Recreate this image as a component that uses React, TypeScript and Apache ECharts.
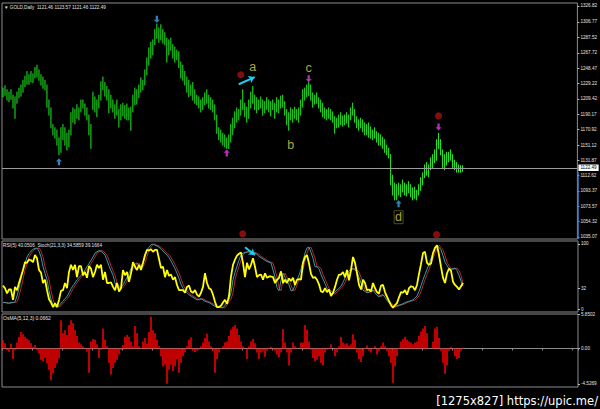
import { useEffect, useRef } from 'react';
import * as echarts from 'echarts';

// ---- price bars (GOLD, Daily), high / low per bar ----
const barHigh = [
  1223,1226,1221,1218,1221,1214,1212,1218,1223,1227,
  1233,1238,1244,1240,1244,1241,1249,1252,1246,1240,
  1237,1233,1227,1208,1198,1177,1173,1170,1160,1173,
  1177,1173,1166,1170,1192,1198,1196,1202,1198,1208,
  1208,1203,1198,1189,1177,1218,1212,1208,1214,1231,
  1237,1230,1225,1221,1214,1208,1202,1208,1196,1202,
  1204,1201,1203,1198,1199,1214,1223,1221,1227,1236,
  1233,1246,1261,1274,1281,1284,1297,1304,1299,1303,
  1297,1293,1286,1284,1286,1278,1275,1271,1269,1256,
  1252,1244,1237,1233,1227,1230,1221,1214,1212,1208,
  1211,1217,1221,1214,1211,1208,1202,1189,1173,1170,
  1166,1164,1160,1164,1177,1185,1193,1198,1196,1208,
  1221,1204,1199,1208,1218,1225,1214,1211,1208,1212,
  1208,1206,1211,1208,1206,1208,1204,1211,1208,1213,
  1214,1206,1196,1192,1198,1196,1199,1196,1198,1208,
  1221,1223,1227,1230,1227,1217,1214,1217,1211,1208,
  1204,1198,1196,1198,1196,1193,1187,1185,1189,1192,
  1188,1189,1192,1189,1198,1204,1196,1187,1183,1185,
  1183,1179,1177,1179,1174,1170,1173,1168,1166,1164,
  1161,1158,1151,1147,1139,1113,1103,1101,1103,1101,
  1107,1103,1101,1105,1101,1097,1098,1094,1101,1110,
  1116,1126,1129,1126,1135,1139,1145,1158,1166,1158,
  1145,1139,1142,1142,1145,1139,1132,1129,1126,1125,
  1125,
];
const barLow = [
  1212,1214,1208,1206,1209,1198,1185,1204,1211,1213,
  1218,1225,1228,1228,1231,1230,1236,1237,1233,1227,
  1223,1221,1199,1189,1173,1164,1160,1151,1139,1142,
  1158,1151,1145,1149,1164,1180,1178,1185,1183,1193,
  1198,1189,1183,1164,1147,1196,1193,1187,1198,1208,
  1221,1213,1208,1192,1198,1193,1185,1189,1174,1183,
  1188,1185,1183,1183,1170,1193,1202,1203,1211,1218,
  1221,1227,1240,1252,1261,1265,1278,1286,1281,1284,
  1280,1278,1256,1265,1271,1261,1256,1259,1249,1236,
  1233,1227,1218,1212,1214,1208,1204,1202,1198,1193,
  1196,1202,1204,1198,1196,1193,1183,1166,1158,1155,
  1151,1149,1147,1147,1155,1164,1173,1180,1183,1189,
  1196,1187,1180,1185,1198,1204,1196,1192,1196,1198,
  1189,1192,1196,1193,1188,1196,1185,1193,1192,1198,
  1199,1189,1177,1170,1183,1180,1185,1183,1180,1189,
  1199,1208,1212,1214,1208,1199,1203,1204,1198,1193,
  1187,1185,1183,1185,1183,1180,1166,1173,1174,1177,
  1175,1177,1179,1174,1183,1189,1180,1173,1170,1173,
  1168,1164,1164,1161,1160,1158,1160,1155,1151,1151,
  1147,1142,1139,1135,1101,1088,1082,1082,1088,1086,
  1092,1088,1087,1091,1086,1082,1084,1082,1088,1094,
  1101,1110,1113,1111,1120,1122,1129,1132,1147,1139,
  1122,1120,1126,1130,1132,1123,1120,1117,1117,1117,
  1118,
];

// ---- RSI(5) ----
const rsi = [
  36,32,24,30,30,14,34,29,40,50,
  60,72,71,76,75,72,83,78,60,56,
  40,45,29,15,10,3,9,3,14,28,
  29,40,32,57,68,60,68,49,66,66,
  52,57,48,66,62,49,57,68,63,68,
  45,57,40,40,41,34,29,40,27,32,
  60,52,57,42,55,72,65,60,68,60,
  71,83,91,90,92,88,91,91,77,63,
  65,49,60,51,53,45,49,37,29,29,
  29,25,34,36,27,25,29,22,19,25,
  34,55,40,32,30,22,11,3,3,5,
  10,14,8,20,50,68,76,82,85,87,
  71,49,71,61,68,78,65,49,52,53,
  45,55,48,50,50,49,40,45,48,58,
  40,45,40,47,43,48,37,45,46,45,
  71,80,83,70,54,48,49,45,38,27,
  26,32,26,30,20,25,34,45,53,53,
  57,49,60,44,60,80,71,55,37,30,
  45,40,29,30,27,40,32,26,24,36,
  37,26,19,12,6,2,6,9,18,26,
  25,29,22,32,35,34,29,37,54,69,
  86,88,71,68,70,86,94,98,83,65,
  48,40,55,62,59,42,37,34,30,35,
  40,
];

// ---- Stochastic(21,3,3) main and signal ----
const stochMain = [
  10,10,9,9,10,10,11,20,32,46,
  60,70,80,85,89,92,93,94,89,80,
  65,55,45,28,15,6,4,3,5,9,
  12,16,19,25,31,36,40,45,48,52,
  55,60,65,70,75,80,86,88,90,89,
  86,83,75,66,59,52,40,35,32,33,
  37,43,49,55,62,66,69,71,66,65,
  71,81,91,95,99,100,98,97,95,92,
  89,86,83,79,74,68,62,55,47,38,
  32,28,25,22,20,18,16,14,15,16,
  14,12,11,10,8,6,4,3,3,2,
  2,6,11,15,25,45,56,66,75,83,
  86,87,88,88,87,87,86,84,81,79,
  77,75,73,72,71,60,49,33,28,44,
  55,49,43,37,28,29,37,45,52,61,
  74,86,94,95,87,78,65,65,62,53,
  46,39,32,28,24,23,26,29,32,35,
  41,48,55,58,62,62,60,57,49,40,
  29,27,25,26,28,29,25,21,19,21,
  22,18,13,10,6,3,4,5,6,7,
  8,10,11,12,13,14,17,20,27,36,
  45,53,61,69,78,86,93,98,95,91,
  82,72,67,62,61,62,63,59,52,43,
  35,
];
const stochSignal = [
  10,10,10,9,9,10,10,11,20,32,
  46,60,70,80,85,89,92,93,94,89,
  80,65,55,45,28,15,6,4,3,5,
  9,12,16,19,25,31,36,40,45,48,
  52,55,60,65,70,75,80,86,88,90,
  89,86,83,75,66,59,52,40,35,32,
  33,37,43,49,55,62,66,69,71,66,
  65,71,81,91,95,99,100,98,97,95,
  92,89,86,83,79,74,68,62,55,47,
  38,32,28,25,22,20,18,16,14,15,
  16,14,12,11,10,8,6,4,3,3,
  2,2,6,11,15,25,45,56,66,75,
  83,86,87,88,88,87,87,86,84,81,
  79,77,75,73,72,71,60,49,33,28,
  44,55,49,43,37,28,29,37,45,52,
  61,74,86,94,95,87,78,65,65,62,
  53,46,39,32,28,24,23,26,29,32,
  35,41,48,55,58,62,62,60,57,49,
  40,29,27,25,26,28,29,25,21,19,
  21,22,18,13,10,6,3,4,5,6,
  7,8,10,11,12,13,14,17,20,27,
  36,45,53,61,69,78,86,93,98,95,
  91,82,72,67,62,61,62,63,59,52,
  39,
];

// ---- OsMA(5,12,3) ----
const osma = [
  1.4,0.9,-0.3,-0.6,0.8,-1.8,-0.3,1.0,2.0,2.8,
  2.4,2.0,1.7,1.4,0.9,0.3,0.6,-0.3,-0.8,-1.9,
  -2.2,-1.6,-2.5,-3.6,-5.4,-4.2,-3.3,-2.5,-1.7,4.8,
  2.6,3.1,2.3,4.0,4.8,4.3,3.1,2.1,1.0,0.7,
  0.4,0,-0.5,-4.1,1.2,1.6,1.5,0.7,-1.6,-0.2,
  3.4,1.5,0.4,-2.4,-4.4,-3.3,-2.4,-1.9,-1.0,-0.2,
  0.6,2.0,2.3,2.0,1.2,0.4,3.8,2.6,0.4,-0.1,
  1.2,1.8,0.8,2.8,5.4,3.1,2.6,1.5,0.4,-1.3,
  -3.0,-2.7,-6.0,-3.6,-2.7,-3.8,-3.0,-1.8,-4.1,-2.4,
  -1.3,-0.7,0.4,1.5,1.9,-0.4,-0.6,-0.4,-0.2,0.4,
  1.0,1.8,2.5,1.2,0.4,-0.4,-4.1,-1.8,-0.7,-0.1,
  0.4,1.0,1.2,2.1,3.2,3.7,4.0,3.4,2.3,1.2,
  0.4,0,-1.8,0.4,1.2,1.6,0.9,-0.7,-1.8,-0.7,
  -0.4,-1.4,-0.4,0.1,0.3,-0.2,-0.4,-1.0,-1.5,-0.7,
  3.3,1.0,-0.7,-2.9,-0.7,1.0,0.4,-0.1,0,1.0,
  1.0,4.0,3.2,1.2,-0.2,-1.6,-2.2,-1.9,-1.3,-2.4,
  -2.9,-0.7,-0.2,0.1,0.7,0,-1.3,-0.7,0.4,2.0,
  1.0,0.7,0.9,0.5,0.7,2.4,1.5,-0.7,-1.8,-2.3,
  -1.3,0.1,0.5,-0.4,-0.7,-0.1,0.4,-1.0,-0.4,0.4,
  1.0,0.4,-0.4,-1.3,-2.4,-5.8,-3.0,-1.3,-0.1,1.2,
  1.6,2.0,1.5,1.2,1.0,0.7,1.0,1.2,2.1,2.9,
  3.4,3.8,2.6,0.1,0,1.2,3.4,3.7,1.8,-0.4,
  -2.4,-4.3,-2.9,-0.4,0.3,-0.1,-1.3,-1.8,-1.6,-0.4,
  0.07,
];

// ---- axis tick labels ----
const priceTicks = [1035.07,1054.32,1073.57,1093.37,1112.62,1131.87,1151.12,1170.92,1190.17,1209.42,1229.22,1248.47,1267.72,1287.52,1306.77,1326.82];
const rsiTicks = [0, 32, 100];
const osmaTicks = [5.8502, 0, -6.0];
const osmaTickLabels = ['5.8502', '0.00', '-4.5269'];
const lastPrice = 1122.49;
const slotCount = 288;

// ---- annotations [barIndex, value] ----
const arrowsUpBlue = [[28, 1130], [198, 1077]];
const arrowsDownBlue = [[77, 1310]];
const arrowsUpMagenta = [[112, 1141]];
const arrowsDownMagenta = [[153, 1235], [218, 1174]];
const redDots = [[119, 1240], [218, 1188], [120, 1039], [217, 1038]];
const waveLabels = [
  { name: 'a', at: [125, 1250] },
  { name: 'b', at: [144, 1151] },
  { name: 'c', at: [153, 1248] },
  { name: 'd', at: [198, 1060] },
];
const cyanArrowMain = [[118, 1228], [126, 1237]];
const cyanArrowRsi = [[121, 95], [126, 83]];

const GREEN = '#1fee1f';
const FRAME = '#8c8c8c';
const TXT = '#e4e4e4';
const FONT = 'Liberation Sans, Arial, sans-serif';
const UP = 'path://M4 0 L8 4 L5.5 4 L5.5 9 L2.5 9 L2.5 4 L0 4 Z';
const DOWN = 'path://M2.5 0 L5.5 0 L5.5 5 L8 5 L4 9 L0 5 L2.5 5 Z';

export default function App() {
  const ref = useRef<HTMLDivElement>(null);
  useEffect(() => {
    document.body.style.margin = '0';
    document.body.style.background = '#000';
    if (!ref.current) return;
    const chart = echarts.init(ref.current, undefined, { renderer: 'svg' });
    const slots = Array.from({ length: slotCount }, (_, i) => String(i));
    const bars = barHigh.map((h, i) => [i, barLow[i], h]);
    const grids = [
      { left: 2, top: 3, width: 576, height: 236 },
      { left: 2, top: 241, width: 576, height: 71 },
      { left: 2, top: 314, width: 576, height: 73 },
    ].map((g) => ({ ...g, show: true, borderColor: FRAME, borderWidth: 1, backgroundColor: 'transparent', containLabel: false }));

    const xAxis = [0, 1, 2].map((gi) => ({
      type: 'category',
      gridIndex: gi,
      data: slots,
      boundaryGap: true,
      axisLine: { show: gi === 2, lineStyle: { color: FRAME } },
      axisTick: { show: gi === 2, interval: 14, length: 2, lineStyle: { color: FRAME } },
      axisLabel: { show: false },
      splitLine: { show: false },
    }));

    const yBase = (gi: number, min: number, max: number, ticks: number[], fmt: (v: number) => string) => ({
      type: 'value',
      gridIndex: gi,
      position: 'right',
      min,
      max,
      splitLine: { show: false },
      axisLine: { show: false },
      axisTick: { show: true, length: 2, customValues: ticks, lineStyle: { color: '#bdbdbd' } },
      axisLabel: { show: true, customValues: ticks, formatter: fmt, color: TXT, fontSize: 4.6, margin: 3, fontFamily: FONT },
    });

    const option: any = {
      animation: false,
      backgroundColor: '#000',
      grid: grids,
      xAxis,
      yAxis: [
        yBase(0, 1032.5, 1330.6, priceTicks, (v) => v.toFixed(2)),
        yBase(1, -4.6, 104.6, rsiTicks, (v) => String(Math.round(v))),
        yBase(2, -6.53, 5.8502, osmaTicks, (v) => {
          const k = osmaTicks.findIndex((t) => Math.abs(t - v) < 1e-6);
          return k >= 0 ? osmaTickLabels[k] : '';
        }),
      ],
      title: [
        { text: '\u25BC GOLD,Daily  1121.46 1123.57 1121.46 1122.49', left: 4, top: 4.5, padding: 0, textStyle: { color: TXT, fontSize: 4.6, fontWeight: 'normal', fontFamily: FONT } },
        { text: 'RSI(5) 40.0506  Stoch(21,3,3) 34.5859 39.1664', left: 3, top: 242.5, padding: 0, textStyle: { color: TXT, fontSize: 4.7, fontWeight: 'normal', fontFamily: FONT } },
        { text: 'OsMA(5,12,3) 0.0662', left: 3, top: 315, padding: 0, textStyle: { color: TXT, fontSize: 5, fontWeight: 'normal', fontFamily: FONT } },
        { text: '[1275x827] https://upic.me/', right: 2, top: 394.5, padding: 0, textStyle: { color: '#ffffff', fontSize: 11.5, fontWeight: 'normal', fontFamily: 'DejaVu Sans, sans-serif' } },
      ],
      graphic: [
        { type: 'line', shape: { x1: 578, y1: 172, x2: 578, y2: 239 }, style: { stroke: '#3b7fd0', lineWidth: 1.5 }, z: 100 },
      ],
      series: [
        {
          type: 'custom',
          xAxisIndex: 0,
          yAxisIndex: 0,
          data: bars,
          encode: { x: 0, y: [1, 2] },
          renderItem: (_p: any, api: any) => {
            const lo = api.coord([api.value(0), api.value(1)]);
            const hi = api.coord([api.value(0), api.value(2)]);
            return {
              type: 'line',
              shape: { x1: lo[0], y1: lo[1] + 0.5, x2: hi[0], y2: hi[1] - 0.5 },
              style: { stroke: GREEN, lineWidth: 1 },
            };
          },
          markLine: {
            silent: true,
            symbol: 'none',
            data: [{ yAxis: lastPrice }],
            lineStyle: { color: '#9c9c9c', width: 1, type: 'solid' },
            label: { show: true, position: 'end', formatter: lastPrice.toFixed(2), color: '#000', backgroundColor: '#ffffff', fontSize: 4.6, padding: [1, 2, 0.5, 2], distance: 1, fontFamily: FONT },
          },
          z: 2,
        },
        {
          type: 'scatter', xAxisIndex: 0, yAxisIndex: 0, data: arrowsUpBlue,
          symbol: UP, symbolSize: [6, 7], itemStyle: { color: '#3ea2e8' }, z: 5,
        },
        {
          type: 'scatter', xAxisIndex: 0, yAxisIndex: 0, data: arrowsDownBlue,
          symbol: DOWN, symbolSize: [6, 7], itemStyle: { color: '#3ea2e8' }, z: 5,
        },
        {
          type: 'scatter', xAxisIndex: 0, yAxisIndex: 0, data: arrowsUpMagenta,
          symbol: UP, symbolSize: [6, 7], itemStyle: { color: '#e43ce4' }, z: 5,
        },
        {
          type: 'scatter', xAxisIndex: 0, yAxisIndex: 0, data: arrowsDownMagenta,
          symbol: DOWN, symbolSize: [6, 7], itemStyle: { color: '#e43ce4' }, z: 5,
        },
        {
          type: 'scatter', xAxisIndex: 0, yAxisIndex: 0, data: redDots,
          symbol: 'circle', symbolSize: 7, itemStyle: { color: '#a81010' }, z: 5,
        },
        {
          type: 'scatter', xAxisIndex: 0, yAxisIndex: 0,
          data: waveLabels.map((w) => ({
            name: w.name,
            value: w.at,
            label: w.name === 'd' ? { borderColor: '#77773a', borderWidth: 0.8, padding: [0, 1, 0, 1] } : undefined,
          })),
          symbol: 'circle', symbolSize: 0.1, itemStyle: { color: 'transparent' },
          label: {
            show: true, position: 'inside', formatter: '{b}', color: '#e2d24a', fontSize: 12.5, fontFamily: FONT,
          },
          markLine: {
            silent: true,
            symbol: ['none', 'arrow'],
            symbolSize: 6,
            lineStyle: { color: '#18d0f0', width: 2, type: 'solid' },
            label: { show: false },
            data: [[{ coord: cyanArrowMain[0] }, { coord: cyanArrowMain[1] }]],
          },
          z: 6,
        },
        {
          type: 'line', xAxisIndex: 1, yAxisIndex: 1, data: stochSignal,
          symbol: 'none', lineStyle: { color: '#b82828', width: 1 }, z: 2,
        },
        {
          type: 'line', xAxisIndex: 1, yAxisIndex: 1, data: stochMain,
          symbol: 'none', lineStyle: { color: '#3c9aa8', width: 1 }, z: 3,
        },
        {
          type: 'line', xAxisIndex: 1, yAxisIndex: 1, data: rsi,
          symbol: 'none', lineStyle: { color: '#ffff00', width: 1.8 }, z: 4,
          markLine: {
            silent: true,
            symbol: ['none', 'arrow'],
            symbolSize: 6,
            lineStyle: { color: '#18d0f0', width: 2, type: 'solid' },
            label: { show: false },
            data: [[{ coord: cyanArrowRsi[0] }, { coord: cyanArrowRsi[1] }]],
          },
        },
        {
          type: 'bar', xAxisIndex: 2, yAxisIndex: 2, data: osma,
          barWidth: 1.5, itemStyle: { color: '#ff0000' },
        },
      ],
    };
    chart.setOption(option);
    return () => chart.dispose();
  }, []);
  return <div ref={ref} style={{ width: 600, height: 409, background: '#000' }} />;
}
